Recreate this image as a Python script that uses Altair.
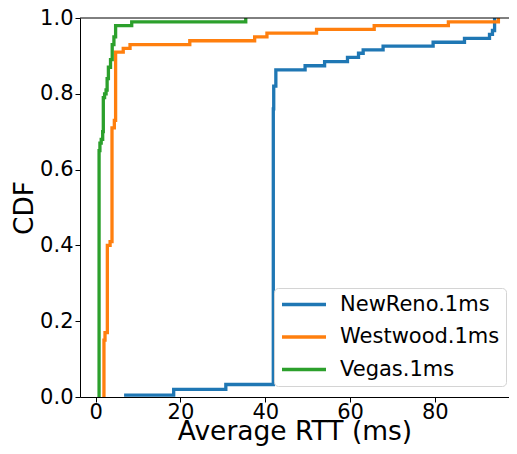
import altair as alt
import pandas as pd

series_names = ["NewReno.1ms", "Westwood.1ms", "Vegas.1ms"]
series_colors = ["#1f77b4", "#ff7f0e", "#2ca02c"]

# Step vertices (RTT in ms, CDF value after the step)
newreno_rtt = [6.7, 18.4, 30.7, 41.9, 42.0, 42.5, 49.4, 54.0, 59.4, 62.0, 63.1,
               67.8, 79.6, 87.0, 92.9, 93.6, 94.1]
newreno_cdf = [0.005, 0.02, 0.033, 0.76, 0.82, 0.863, 0.874, 0.885, 0.896, 0.907,
               0.916, 0.926, 0.936, 0.946, 0.957, 0.967, 1.0]

westwood_rtt = [1.95, 1.95, 2.2, 2.75, 3.4, 3.85, 4.4, 4.7, 6.5, 8.1, 22.2, 37.5,
                40.4, 52.1, 65.7, 83.2, 95.0]
westwood_cdf = [0.0, 0.15, 0.17, 0.40, 0.41, 0.71, 0.73, 0.91, 0.92, 0.93, 0.94,
                0.95, 0.96, 0.97, 0.98, 0.99, 1.0]

vegas_rtt = [0.8, 0.8, 1.0, 1.3, 1.65, 1.8, 2.1, 2.45, 2.7, 3.0, 3.5, 3.9, 4.3,
             4.7, 8.5, 35.4]
vegas_cdf = [0.0, 0.65, 0.67, 0.68, 0.70, 0.79, 0.80, 0.81, 0.84, 0.87, 0.89,
             0.93, 0.95, 0.98, 0.99, 1.0]

x_ticks = [0, 20, 40, 60, 80]
y_ticks = [0.0, 0.2, 0.4, 0.6, 0.8, 1.0]

rows = []
for name, xs, ys in [(series_names[0], newreno_rtt, newreno_cdf),
                     (series_names[1], westwood_rtt, westwood_cdf),
                     (series_names[2], vegas_rtt, vegas_cdf)]:
    for i, (xv, yv) in enumerate(zip(xs, ys)):
        rows.append({"series": name, "rtt": xv, "cdf": yv, "i": i})
df = pd.DataFrame(rows)

FONT = "DejaVu Sans"

lines = alt.Chart(df).mark_line(interpolate="step-after", strokeWidth=3.3).encode(
    x=alt.X("rtt:Q",
            scale=alt.Scale(domain=[-3.7, 97.5], nice=False, zero=False),
            axis=alt.Axis(values=x_ticks, format="d", title="Average RTT (ms)",
                          grid=False, tickSize=5, labelPadding=16,
                          labelBaseline="alphabetic", labelFontSize=21,
                          titleFontSize=26.5, titleFontWeight="normal",
                          titleBaseline="alphabetic", titleY=42,
                          domainColor="black", tickColor="black",
                          labelColor="black", titleColor="black")),
    y=alt.Y("cdf:Q",
            scale=alt.Scale(domain=[0, 1], nice=False),
            axis=alt.Axis(values=y_ticks, format=".1f", title="CDF", grid=False,
                          tickSize=5, labelPadding=2, labelFontSize=21,
                          labelAlign="right", labelBaseline="middle",
                          titleFontSize=26.5, titleFontWeight="normal",
                          titleBaseline="alphabetic", titleAngle=270,
                          titleX=-48, titleY=189.5, titleAlign="center",
                          domainColor="black", tickColor="black",
                          labelColor="black", titleColor="black")),
    color=alt.Color("series:N",
                    scale=alt.Scale(domain=series_names, range=series_colors),
                    legend=alt.Legend(title=None, orient="none", legendX=194,
                                      legendY=270, symbolType="stroke",
                                      symbolSize=1936, symbolStrokeWidth=3.3,
                                      clipHeight=21,
                                      labelFontSize=21, labelColor="black",
                                      labelOffset=12, padding=6, rowPadding=10.5,
                                      fillColor="rgba(255,255,255,0.8)",
                                      strokeColor="#d4d4d4", cornerRadius=4,
                                      labelLimit=300)),
    order=alt.Order("i:Q"),
)

top_spine = alt.Chart(pd.DataFrame({"y": [1.0]})).mark_rule(
    color="black", strokeWidth=1).encode(y="y:Q")

chart = alt.layer(lines, top_spine).properties(
    width=429, height=379,
    autosize=alt.AutoSizeParams(type="none"),
    padding={"left": 72, "top": 10, "right": 0, "bottom": 49},
).configure(font=FONT).configure_view(stroke=None)

chart.save("out.html", embed_options={"renderer": "svg", "actions": False})
